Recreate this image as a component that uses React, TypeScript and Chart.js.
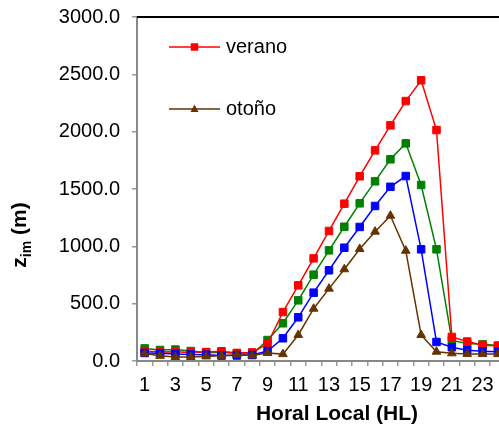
import React, { useEffect, useRef } from "react";
import { Chart, registerables } from "chart.js";

Chart.register(...registerables);

const FONT = "'Liberation Sans', Arial, Helvetica, sans-serif";

// Categories: local hour
const hours = ["1", "2", "3", "4", "5", "6", "7", "8", "9", "10", "11", "12", "13", "14", "15", "16", "17", "18", "19", "20", "21", "22", "23", "24"];

// Series values (m)
const verano = [87, 79, 80, 75, 78, 85, 70, 75, 150, 427, 660, 895, 1134, 1372, 1611, 1837, 2055, 2267, 2448, 2014, 210, 170, 140, 130];
const serieVerde = [110, 96, 100, 87, 75, 75, 67, 58, 183, 329, 529, 753, 965, 1171, 1375, 1567, 1759, 1898, 1535, 974, 180, 152, 145, 135];
const serieAzul = [70, 67, 62, 57, 55, 47, 48, 52, 87, 198, 381, 596, 791, 988, 1169, 1352, 1519, 1613, 974, 166, 120, 93, 85, 80];
const otono = [65, 45, 35, 35, 40, 45, 55, 48, 70, 60, 227, 456, 631, 800, 977, 1128, 1267, 962, 227, 81, 67, 62, 61, 60];

// Y axis ticks
const yMin = 0;
const yMax = 3000;
const yStep = 500;

const legendItems = [
  { label: "verano", color: "#FF0000", shape: "rect" },
  { label: "otoño", color: "#663300", shape: "triangle" },
];

const decor = {
  id: "decor",
  afterDraw(chart: any) {
    const { ctx, chartArea } = chart;
    ctx.save();
    // top border of plot area
    ctx.strokeStyle = "#000";
    ctx.lineWidth = 2;
    ctx.beginPath();
    ctx.moveTo(chartArea.left, chartArea.top);
    ctx.lineTo(chartArea.right, chartArea.top);
    ctx.stroke();

    // legend
    const lx0 = chartArea.left + 32;
    const lx1 = chartArea.left + 83;
    const mx = (lx0 + lx1) / 2;
    const rows = [chartArea.top + 30, chartArea.top + 92];
    legendItems.forEach((it, i) => {
      const y = rows[i];
      ctx.strokeStyle = it.color;
      ctx.fillStyle = it.color;
      ctx.lineWidth = 1.5;
      ctx.beginPath();
      ctx.moveTo(lx0, y);
      ctx.lineTo(lx1, y);
      ctx.stroke();
      if (it.shape === "rect") {
        ctx.fillRect(mx - 3.75, y - 3.75, 7.5, 7.5);
      } else {
        ctx.beginPath();
        ctx.moveTo(mx, y - 4.5);
        ctx.lineTo(mx + 4, y + 3);
        ctx.lineTo(mx - 4, y + 3);
        ctx.closePath();
        ctx.fill();
      }
      ctx.fillStyle = "#000";
      ctx.font = `20px ${FONT}`;
      ctx.textAlign = "left";
      ctx.textBaseline = "middle";
      ctx.fillText(it.label, lx1 + 6, y);
    });

    // x axis title
    ctx.fillStyle = "#000";
    ctx.font = `bold 21px ${FONT}`;
    ctx.textAlign = "center";
    ctx.textBaseline = "middle";
    ctx.fillText("Horal Local (HL)", chartArea.left + 200, 414);

    // y axis title with subscript
    ctx.save();
    ctx.translate(26, 235);
    ctx.rotate(-Math.PI / 2);
    ctx.textAlign = "left";
    ctx.textBaseline = "alphabetic";
    const big = `bold 21px ${FONT}`;
    const small = `bold 14px ${FONT}`;
    ctx.font = big;
    const wz = ctx.measureText("z").width;
    const wm = ctx.measureText(" (m)").width;
    ctx.font = small;
    const wi = ctx.measureText("im").width;
    let x = -(wz + wi + wm) / 2;
    ctx.font = big;
    ctx.fillText("z", x, 0);
    x += wz;
    ctx.font = small;
    ctx.fillText("im", x, 5);
    x += wi;
    ctx.font = big;
    ctx.fillText(" (m)", x, 0);
    ctx.restore();

    ctx.restore();
  },
};

export default function App() {
  const ref = useRef<HTMLCanvasElement>(null);
  useEffect(() => {
    const mk = (label: string, data: number[], color: string, style: string, r: number) => ({
      label,
      data,
      borderColor: color,
      backgroundColor: color,
      borderWidth: 1.5,
      pointStyle: style,
      pointRadius: r,
      pointBorderWidth: 1,
      pointBackgroundColor: color,
      pointBorderColor: color,
      tension: 0,
    });
    const chart = new Chart(ref.current!, {
      type: "line",
      data: {
        labels: hours,
        datasets: [
          mk("otoño", otono, "#663300", "triangle", 5),
          mk("serie azul", serieAzul, "#0000FF", "rect", 5.3),
          mk("verano", verano, "#FF0000", "rect", 5.3),
          mk("serie verde", serieVerde, "#008000", "rect", 5.3),
        ],
      },
      options: {
        responsive: false,
        animation: false,
        layout: { padding: { top: 17, right: 6.4, left: 0, bottom: 0 } },
        font: { family: FONT },
        plugins: { legend: { display: false }, tooltip: { enabled: false } },
        scales: {
          x: {
            type: "category",
            offset: true,
            grid: { offset: true, drawOnChartArea: false, drawTicks: true, tickLength: 5, color: "#999", lineWidth: 1.5 },
            border: { display: true, color: "#888", width: 2 },
            ticks: {
              autoSkip: false,
              maxRotation: 0,
              padding: 7,
              color: "#000",
              font: { size: 20, family: FONT },
              callback: (_v: any, i: number) => (i % 2 === 0 ? hours[i] : ""),
            },
            afterFit: (s: any) => {
              s.height = 68;
              s.paddingLeft = 0;
              s.paddingRight = 0;
            },
          },
          y: {
            min: yMin,
            max: yMax,
            grid: { drawOnChartArea: false, drawTicks: true, tickLength: 5, color: "#999", lineWidth: 1.5 },
            border: { display: true, color: "#888", width: 2 },
            ticks: {
              stepSize: yStep,
              padding: 12,
              color: "#000",
              font: { size: 20, family: FONT },
              callback: (v: any) => Number(v).toFixed(1),
            },
            afterFit: (s: any) => {
              s.width = 137;
              s.paddingTop = 0;
              s.paddingBottom = 0;
            },
          },
        },
      } as any,
      plugins: [decor],
    });
    return () => chart.destroy();
  }, []);
  return (
    <div style={{ position: "fixed", left: 0, top: 0, width: 499, height: 429, overflow: "hidden", background: "#fff" }}>
      <canvas ref={ref} width={512} height={429} style={{ display: "block" }} />
    </div>
  );
}
